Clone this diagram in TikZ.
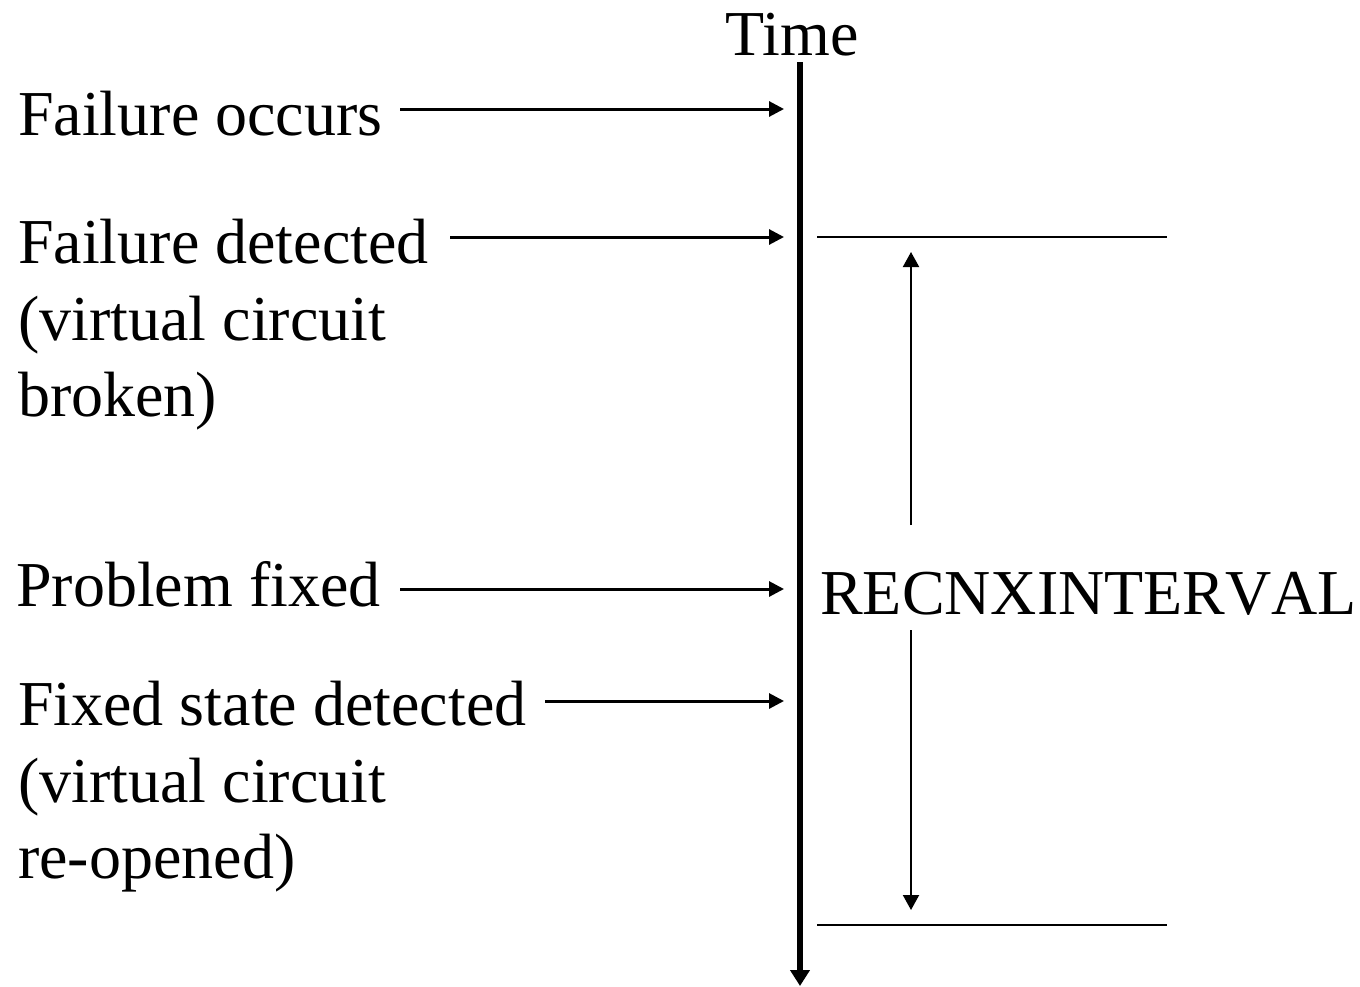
\documentclass[tikz,border=0pt]{standalone}
\usepackage{fontspec}
\setmainfont{Liberation Serif}
\usetikzlibrary{arrows.meta}
\begin{document}
\begin{tikzpicture}[x=1pt,y=1pt,
  lbl/.style={anchor=base west,inner sep=0pt,font=\fontsize{64}{77}\selectfont},
  evarrow/.style={line width=3pt,-{Triangle[length=15pt,width=15pt]}},
  axisline/.style={line width=6pt,-{Triangle[length=16pt,width=19pt]}},
  limit/.style={line width=2.3pt},
  span/.style={line width=2pt,-{Triangle[length=15pt,width=16pt]}}]
\useasboundingbox (0,0) rectangle (1360,-986);
% time axis
\node[anchor=base,inner sep=0pt,font=\fontsize{64}{77}\selectfont] (time) at (792,-55) {Time};
\coordinate (ttop) at (800,-62);
\coordinate (tbot) at (800,-986);
\draw[axisline] (ttop) -- (tbot);
% event labels
\node[lbl] (occ) at (18,-135) {Failure occurs};
\node[lbl] (det) at (18,-263) {Failure detected};
\node[lbl] (det2) at (18,-340) {(virtual circuit};
\node[lbl] (det3) at (18,-416) {broken)};
\node[lbl] (fix) at (16,-606) {Problem fixed};
\node[lbl] (fsd) at (18,-725) {Fixed state detected};
\node[lbl] (fsd2) at (18,-802) {(virtual circuit};
\node[lbl] (fsd3) at (18,-878) {re-opened)};
% arrow endpoints
\coordinate (a1s) at (400,-109); \coordinate (a1e) at (784,-109);
\coordinate (a2s) at (450,-237); \coordinate (a2e) at (784,-237);
\coordinate (a3s) at (400,-589); \coordinate (a3e) at (784,-589);
\coordinate (a4s) at (545,-701); \coordinate (a4e) at (784,-701);
\draw[evarrow] (a1s) -- (a1e);
\draw[evarrow] (a2s) -- (a2e);
\draw[evarrow] (a3s) -- (a3e);
\draw[evarrow] (a4s) -- (a4e);
% interval
\coordinate (l1a) at (817,-237); \coordinate (l1b) at (1167,-237);
\coordinate (l2a) at (817,-925); \coordinate (l2b) at (1167,-925);
\draw[limit] (l1a) -- (l1b);
\draw[limit] (l2a) -- (l2b);
\node[lbl] (rec) at (820,-614) {\addfontfeature{Kerning=Off}RECNXINTERVAL};
\coordinate (u1) at (911,-525); \coordinate (u2) at (911,-252);
\coordinate (d1) at (911,-630); \coordinate (d2) at (911,-910);
\draw[span] (u1) -- (u2);
\draw[span] (d1) -- (d2);
\end{tikzpicture}
\end{document}
